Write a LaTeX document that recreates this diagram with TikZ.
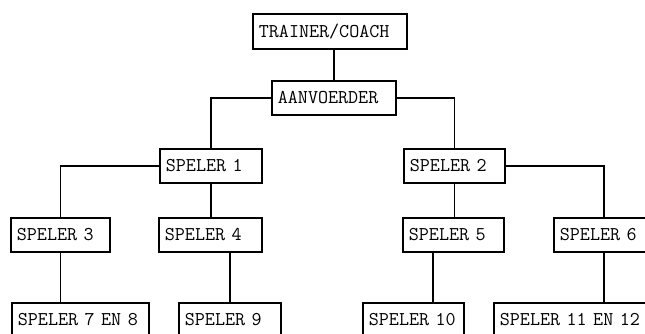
\documentclass[tikz,border=0pt]{standalone}
\usepackage{fontspec}
\begin{document}
\begin{tikzpicture}[x=1pt,y=-1pt,
  box/.style={draw, line width=1.8pt, anchor=north west, minimum height=34pt,
    inner xsep=6pt, inner ysep=0pt, align=left, font=\ttfamily\fontsize{19.5}{21}\selectfont},
  link/.style={line width=1.8pt}]
\useasboundingbox (0,0) rectangle (645,334);
\clip (0,0) rectangle (645,334);
\fill[white] (0,0) rectangle (645,334);
\node[box, text width=142pt, minimum height=35pt] (tc) at (252,13) {TRAINER/COACH};
\node[box, text width=112pt] (aa) at (271,80) {AANVOERDER};
\node[box, text width=90pt] (s1) at (159,148) {SPELER 1};
\node[box, text width=89pt] (s2) at (403,148) {SPELER 2};
\node[box, text width=87pt] (s3) at (10,217) {SPELER 3};
\node[box, text width=91pt] (s4) at (158,217) {SPELER 4};
\node[box, text width=89pt] (s5) at (402,217) {SPELER 5};
\node[box, text width=88pt] (s6) at (553,217) {SPELER 6};
\node[box, text width=125pt] (s78) at (11,302) {SPELER 7 EN 8};
\node[box, text width=90pt] (s9) at (178,302) {SPELER 9};
\node[box, text width=89pt] (s10) at (362,302) {SPELER 10};
\node[box, text width=158pt] (s1112) at (493,302) {SPELER 11 EN 12};
\coordinate (j10) at (433,302);
\draw[link] (aa.north) -- (aa.north |- tc.south);
\draw[link] (aa.west) -| (s1.north);
\draw[link] (aa.east) -| (s2.north);
\draw[link] (s1.west) -| (s3.north);
\draw[link] (s1.south) -- (s1.south |- s4.north);
\draw[link] (s2.east) -| (s6.north);
\draw[link] (s2.south) -- (s2.south |- s5.north);
\draw[link] (s3.south) -- (s3.south |- s78.north);
\draw[link] (s9.north) -- (s9.north |- s4.south);
\draw[link] (j10) -- (j10 |- s5.south);
\draw[link] (s6.south) -- (s6.south |- s1112.north);
\end{tikzpicture}
\end{document}
